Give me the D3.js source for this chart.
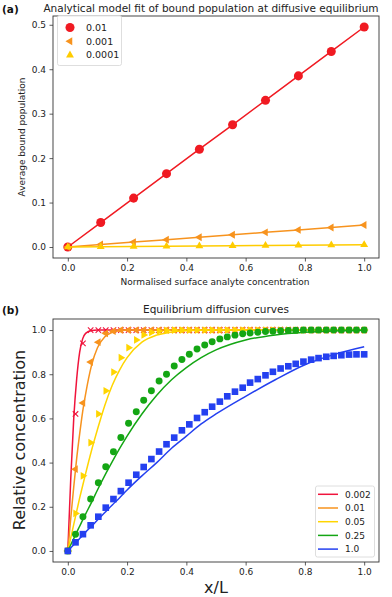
<!DOCTYPE html>
<html>
<head>
<meta charset="utf-8">
<script src="https://cdn.jsdelivr.net/npm/d3@7"></script>
<style>
  body { margin: 0; background: #fff; }
  svg { display: block; font-family: "DejaVu Sans", sans-serif; }
</style>
</head>
<body>
<div id="chartContainer"></div>
<script>
// ---- panel (a) data: bound population vs surface concentration ----
const aConc = [0, 0.111, 0.222, 0.333, 0.444, 0.556, 0.667, 0.778, 0.889, 1.0];
const aBound1 = [0, 0.055, 0.11, 0.165, 0.22, 0.275, 0.33, 0.385, 0.44, 0.495];
const aBound2 = [0, 0.0055, 0.011, 0.0165, 0.022, 0.0275, 0.033, 0.0385, 0.044, 0.0495];
const aBound3 = [0, 0.0006, 0.0011, 0.0017, 0.0022, 0.0028, 0.0033, 0.0039, 0.0044, 0.005];
const aLegend = ["0.01", "0.001", "0.0001"];
const aTicksX = [0, 0.2, 0.4, 0.6, 0.8, 1.0];
const aTicksY = [0, 0.1, 0.2, 0.3, 0.4, 0.5];

// ---- panel (b) data: equilibrium diffusion curves ----
const bPointX = [0, 0.026, 0.051, 0.077, 0.103, 0.128, 0.154, 0.179, 0.205, 0.231,
  0.256, 0.282, 0.308, 0.333, 0.359, 0.385, 0.41, 0.436, 0.462, 0.487,
  0.513, 0.538, 0.564, 0.59, 0.615, 0.641, 0.667, 0.692, 0.718, 0.744,
  0.769, 0.795, 0.821, 0.846, 0.872, 0.897, 0.923, 0.949, 0.974, 1.0];
const bPoints002 = [0, 0.62, 0.94, 1, 1, 1, 1, 1, 1, 1, 1, 1, 1, 1, 1, 1, 1, 1, 1, 1,
  1, 1, 1, 1, 1, 1, 1, 1, 1, 1, 1, 1, 1, 1, 1, 1, 1, 1, 1, 1];
const bPoints01 = [0, 0.37, 0.67, 0.855, 0.945, 0.985, 0.995, 1, 1, 1, 1, 1, 1, 1, 1, 1, 1, 1, 1, 1,
  1, 1, 1, 1, 1, 1, 1, 1, 1, 1, 1, 1, 1, 1, 1, 1, 1, 1, 1, 1];
const bPoints05 = [0, 0.17, 0.34, 0.49, 0.62, 0.725, 0.81, 0.875, 0.92, 0.955,
  0.978, 0.99, 0.995, 0.998, 1, 1, 1, 1, 1, 1, 1, 1, 1, 1, 1, 1, 1, 1, 1, 1,
  1, 1, 1, 1, 1, 1, 1, 1, 1, 1];
const bPoints25 = [0, 0.076, 0.155, 0.235, 0.309, 0.381, 0.449, 0.514, 0.578, 0.63,
  0.682, 0.725, 0.769, 0.80, 0.837, 0.867, 0.89, 0.914, 0.932, 0.947,
  0.96, 0.969, 0.977, 0.983, 0.987, 0.99, 0.993, 0.995, 0.997, 0.998,
  0.999, 1, 1, 1, 1, 1, 1, 1, 1, 1];
const bPoints1 = [0, 0.039, 0.076, 0.116, 0.155, 0.196, 0.235, 0.271, 0.309, 0.345,
  0.38, 0.416, 0.45, 0.483, 0.513, 0.546, 0.573, 0.602, 0.628, 0.653,
  0.676, 0.70, 0.721, 0.739, 0.762, 0.778, 0.795, 0.811, 0.826, 0.836,
  0.847, 0.857, 0.866, 0.873, 0.879, 0.883, 0.886, 0.889, 0.89, 0.89];

const bLineX = [0, 0.01, 0.02, 0.03, 0.04, 0.05, 0.06, 0.08, 0.1, 0.125, 0.15, 0.175,
  0.2, 0.25, 0.3, 0.35, 0.4, 0.45, 0.5, 0.6, 0.7, 0.8, 0.9, 1.0];
const bLine002 = [0, 0.33, 0.6, 0.78, 0.9, 0.96, 0.985, 0.998, 1, 1, 1, 1,
  1, 1, 1, 1, 1, 1, 1, 1, 1, 1, 1, 1];
const bLine01 = [0, 0.15, 0.29, 0.42, 0.53, 0.63, 0.71, 0.84, 0.92, 0.97, 0.99, 0.997,
  1, 1, 1, 1, 1, 1, 1, 1, 1, 1, 1, 1];
const bLine05 = [0, 0.06, 0.12, 0.18, 0.24, 0.295, 0.35, 0.455, 0.55, 0.66, 0.75, 0.82,
  0.875, 0.945, 0.977, 0.991, 0.997, 0.999, 1, 1, 1, 1, 1, 1];
const bLine25 = [0, 0.028, 0.056, 0.085, 0.112, 0.14, 0.167, 0.22, 0.276, 0.342, 0.404, 0.464,
  0.52, 0.62, 0.705, 0.775, 0.83, 0.875, 0.91, 0.955, 0.978, 0.99, 0.996, 0.999];
const bLine1 = [0, 0.014, 0.028, 0.042, 0.056, 0.07, 0.085, 0.112, 0.14, 0.174, 0.208, 0.241,
  0.276, 0.34, 0.40, 0.465, 0.52, 0.575, 0.62, 0.70, 0.775, 0.843, 0.89, 0.924];
const bLegend = ["0.002", "0.01", "0.05", "0.25", "1.0"];
const bTicksX = [0, 0.2, 0.4, 0.6, 0.8, 1.0];
const bTicksY = [0, 0.2, 0.4, 0.6, 0.8, 1.0];

const width = 392;
const height = 597;
const axisColor = "#333";

// custom 'x' marker (stroked, like matplotlib's "x")
const symbolX = {
  draw(ctx, size) {
    const r = Math.sqrt(size) / 2;
    ctx.moveTo(-r, -r); ctx.lineTo(r, r);
    ctx.moveTo(r, -r); ctx.lineTo(-r, r);
  }
};

function marker(type, size, rotate) {
  return { path: d3.symbol().type(type).size(size)(), rotate: rotate || 0 };
}

const svg = d3.select("#chartContainer")
  .append("svg")
  .attr("width", width)
  .attr("height", height);

svg.append("rect").attr("width", width).attr("height", height).attr("fill", "#fff");

// draw a framed axes box with ticks
function drawAxes(x, y, ticksX, ticksY) {
  const g = svg.append("g");
  const [x0, x1] = x.range();
  const [y0, y1] = y.range();

  const xAxis = g.append("g")
    .attr("transform", `translate(0, ${y0})`)
    .call(d3.axisBottom(x).tickValues(ticksX).tickFormat(d3.format(".1f")).tickSize(3.5).tickPadding(3.5));
  const yAxis = g.append("g")
    .attr("transform", `translate(${x0}, 0)`)
    .call(d3.axisLeft(y).tickValues(ticksY).tickFormat(d3.format(".1f")).tickSize(3.5).tickPadding(3.5));

  [xAxis, yAxis].forEach(a => {
    a.select(".domain").remove();
    a.selectAll("line").attr("stroke", axisColor).attr("stroke-width", 0.8);
    a.selectAll("text").attr("fill", "#222").attr("font-size", 9)
      .attr("font-family", "DejaVu Sans, sans-serif");
  });

  g.append("rect")
    .attr("x", x0).attr("y", y1)
    .attr("width", x1 - x0).attr("height", y0 - y1)
    .attr("fill", "none").attr("stroke", axisColor).attr("stroke-width", 0.9);
}

// ---------------- panel (a) ----------------
const xa = d3.scaleLinear().domain([-0.05, 1.05]).range([53, 379]);
const ya = d3.scaleLinear().domain([-0.02475, 0.51975]).range([258, 16]);

const aSeries = [
  { values: aBound1, color: "#f01a22", m: marker(d3.symbolCircle, 64), stroke: false },
  { values: aBound2, color: "#f7931e", m: marker(d3.symbolTriangle, 27, -90), stroke: false },
  { values: aBound3, color: "#ffcc00", m: marker(d3.symbolTriangle, 27, 0), stroke: false }
];

drawAxes(xa, ya, aTicksX, aTicksY);

const lineA = d3.line().x(d => xa(d[0])).y(d => ya(d[1]));

aSeries.forEach(s => {
  const pts = aConc.map((c, i) => [c, s.values[i]]);
  svg.append("path")
    .attr("d", lineA(pts))
    .attr("fill", "none")
    .attr("stroke", s.color)
    .attr("stroke-width", 1.5);
  svg.append("g").selectAll("path")
    .data(pts)
    .enter()
    .append("path")
    .attr("d", s.m.path)
    .attr("transform", d => `translate(${xa(d[0])}, ${ya(d[1])}) rotate(${s.m.rotate})`)
    .attr("fill", s.color);
});

// legend (a)
const legA = svg.append("g");
legA.append("rect")
  .attr("x", 57.5).attr("y", 15.5).attr("width", 64).attr("height", 50).attr("rx", 2)
  .attr("fill", "#fff").attr("fill-opacity", 0.85).attr("stroke", "#d6d6d6").attr("stroke-width", 0.8);
aSeries.forEach((s, i) => {
  const yy = 27.5 + i * 13.8;
  legA.append("path")
    .attr("d", s.m.path)
    .attr("transform", `translate(70, ${yy}) rotate(${s.m.rotate})`)
    .attr("fill", s.color);
  legA.append("text")
    .attr("x", 86).attr("y", yy + 3.3)
    .attr("font-size", 9.5).attr("fill", "#222")
    .text(aLegend[i]);
});

// titles and labels (a)
svg.append("text").attr("x", 2).attr("y", 13).attr("font-size", 10.5)
  .attr("font-weight", "bold").attr("fill", "#111").text("(a)");
svg.append("text").attr("x", 211).attr("y", 11.5).attr("text-anchor", "middle")
  .attr("font-size", 10.5).attr("fill", "#222")
  .text("Analytical model fit of bound population at diffusive equilibrium");
svg.append("text").attr("x", 215).attr("y", 285).attr("text-anchor", "middle")
  .attr("font-size", 9).attr("fill", "#222")
  .text("Normalised surface analyte concentration");
svg.append("text").attr("transform", "translate(25, 137) rotate(-90)")
  .attr("text-anchor", "middle").attr("font-size", 9).attr("fill", "#222")
  .text("Average bound population");

// ---------------- panel (b) ----------------
const xb = d3.scaleLinear().domain([-0.05, 1.05]).range([53, 379]);
const yb = d3.scaleLinear().domain([-0.05, 1.05]).range([562, 319]);

const bSeries = [
  { points: bPoints002, line: bLine002, color: "#f0143c", m: marker(symbolX, 30), stroke: true },
  { points: bPoints01, line: bLine01, color: "#f7931e", m: marker(d3.symbolTriangle, 26, -90), stroke: false },
  { points: bPoints05, line: bLine05, color: "#ffd500", m: marker(d3.symbolTriangle, 26, 90), stroke: false },
  { points: bPoints25, line: bLine25, color: "#14a614", m: marker(d3.symbolCircle, 38), stroke: false },
  { points: bPoints1, line: bLine1, color: "#2440f0", m: marker(d3.symbolSquare, 44), stroke: false }
];

drawAxes(xb, yb, bTicksX, bTicksY);

const lineB = d3.line().x(d => xb(d[0])).y(d => yb(d[1])).curve(d3.curveMonotoneX);

bSeries.forEach(s => {
  svg.append("path")
    .attr("d", lineB(bLineX.map((v, i) => [v, s.line[i]])))
    .attr("fill", "none")
    .attr("stroke", s.color)
    .attr("stroke-width", 1.5);
  const pts = bPointX.map((v, i) => [v, s.points[i]]);
  svg.append("g").selectAll("path")
    .data(pts)
    .enter()
    .append("path")
    .attr("d", s.m.path)
    .attr("transform", d => `translate(${xb(d[0])}, ${yb(d[1])}) rotate(${s.m.rotate})`)
    .attr("fill", s.stroke ? "none" : s.color)
    .attr("stroke", s.stroke ? s.color : "none")
    .attr("stroke-width", 1.1);
});

// legend (b)
const legB = svg.append("g");
legB.append("rect")
  .attr("x", 315.5).attr("y", 486).attr("width", 59).attr("height", 71).attr("rx", 2)
  .attr("fill", "#fff").attr("fill-opacity", 0.85).attr("stroke", "#d6d6d6").attr("stroke-width", 0.8);
bSeries.forEach((s, i) => {
  const yy = 494.3 + i * 13.7;
  legB.append("line")
    .attr("x1", 318).attr("x2", 338).attr("y1", yy).attr("y2", yy)
    .attr("stroke", s.color).attr("stroke-width", 1.5);
  legB.append("text")
    .attr("x", 345).attr("y", yy + 3.3)
    .attr("font-size", 9).attr("fill", "#222")
    .text(bLegend[i]);
});

// titles and labels (b)
svg.append("text").attr("x", 2).attr("y", 314).attr("font-size", 10.5)
  .attr("font-weight", "bold").attr("fill", "#111").text("(b)");
svg.append("text").attr("x", 216).attr("y", 313).attr("text-anchor", "middle")
  .attr("font-size", 10.5).attr("fill", "#222")
  .text("Equilibrium diffusion curves");
svg.append("text").attr("x", 216).attr("y", 593).attr("text-anchor", "middle")
  .attr("font-size", 16).attr("fill", "#222")
  .text("x/L");
svg.append("text").attr("transform", "translate(25, 440) rotate(-90)")
  .attr("text-anchor", "middle").attr("font-size", 16).attr("fill", "#222")
  .text("Relative concentration");
</script>
</body>
</html>
